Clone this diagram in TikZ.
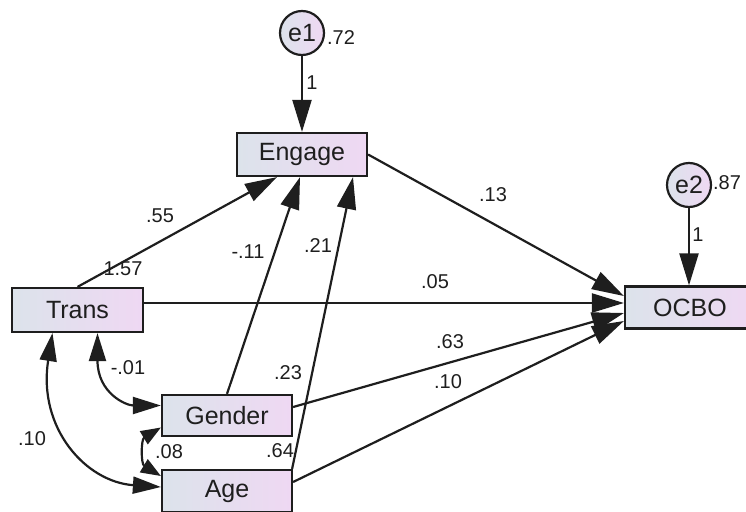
\documentclass[tikz,border=0pt]{standalone}
\usepackage{fontspec}
\setmainfont{Liberation Sans}
\usetikzlibrary{arrows.meta}
\definecolor{boxl}{HTML}{DCE3EB}
\definecolor{boxr}{HTML}{EFD8F3}
\definecolor{ink}{HTML}{1E1E1E}
\tikzset{
  var/.style={draw=ink, line width=2.2pt, left color=boxl, right color=boxr,
    minimum width=130pt, minimum height=43pt, inner sep=0pt, text=ink,
    font=\fontsize{25}{25}\selectfont},
  err/.style={draw=ink, circle, line width=2.2pt, left color=boxl, right color=boxr,
    minimum size=44pt, inner sep=0pt, text=ink, font=\fontsize{25}{25}\selectfont},
  reg/.style={draw=ink, line width=2.2pt, -{Triangle[length=32pt,width=19pt]}},
  cov/.style={draw=ink, line width=2.2pt,
    {Triangle[length=28pt,width=17pt]}-{Triangle[length=28pt,width=17pt]}},
  est/.style={inner sep=0pt, text=ink, font=\fontsize{20}{20}\selectfont}
}
\begin{document}
\begin{tikzpicture}[x=1pt,y=-1pt]
\useasboundingbox (0,0) rectangle (746,511);
\node[var] (engage) at (302,154.5) {Engage};
\node[var, minimum width=131pt, minimum height=44pt] (trans) at (77.5,310) {Trans};
\node[var, minimum height=41pt] (gender) at (227,415.5) {Gender};
\node[var, minimum height=42pt] (age) at (227,491) {Age};
\node[var, minimum height=42pt] (ocbo) at (690,307.5) {OCBO};
\node[err] (e1) at (302,33) {e1};
\node[err] (e2) at (689,185) {e2};
\draw[reg] (e1) -- (engage);
\draw[reg] (e2) -- (ocbo.north -| e2);
\draw[reg] (trans.north) -- ([xshift=-25pt]engage.south);
\draw[reg] (gender.north) -- ([xshift=-2pt]engage.south);
\draw[reg] ([xshift=-1pt]age.north east) -- ([xshift=51pt]engage.south);
\draw[reg] (engage.east) -- ([yshift=11.5pt]ocbo.west);
\draw[reg] ([yshift=7pt]trans.east) -- ([yshift=4.5pt]ocbo.west);
\draw[reg] ([yshift=8.5pt]gender.east) -- ([yshift=-5.5pt]ocbo.west);
\draw[reg] ([yshift=9pt]age.east) -- ([yshift=-13.5pt]ocbo.west);
\draw[cov] ([xshift=20pt]trans.south) .. controls +(0,60) and +(-35,0) .. ([yshift=10pt]gender.west);
\draw[cov] ([xshift=-25pt]trans.south) .. controls +(-15,95) and +(-75,-5) .. ([yshift=4pt]age.west);
\draw[draw=ink, line width=2.2pt, {Triangle[length=20pt,width=15pt]}-{Triangle[length=20pt,width=15pt]}]
  ([yshift=-12pt]gender.west) .. controls +(-20,12) and +(-20,-12) .. ([yshift=15pt]age.west);
\node[est] (v72) at (341,38) {.72};
\node[est] (v87) at (727,183) {.87};
\node[est] (one1) at (312,83) {1};
\node[est] (one2) at (698,235) {1};
\node[est] (v157) at (123,269) {1.57};
\node[est] (v23) at (288,373) {.23};
\node[est] (v64) at (280,451) {.64};
\node[est] (p55) at (160,216) {.55};
\node[est] (pm11) at (248,252) {-.11};
\node[est] (p21) at (318,246) {.21};
\node[est] (p13) at (493,195) {.13};
\node[est] (p05) at (435,282) {.05};
\node[est] (p63) at (450,342) {.63};
\node[est] (p10) at (448,382) {.10};
\node[est] (cm01) at (128,368) {-.01};
\node[est] (c10) at (32,439) {.10};
\node[est] (c08) at (169,452) {.08};
\end{tikzpicture}
\end{document}
